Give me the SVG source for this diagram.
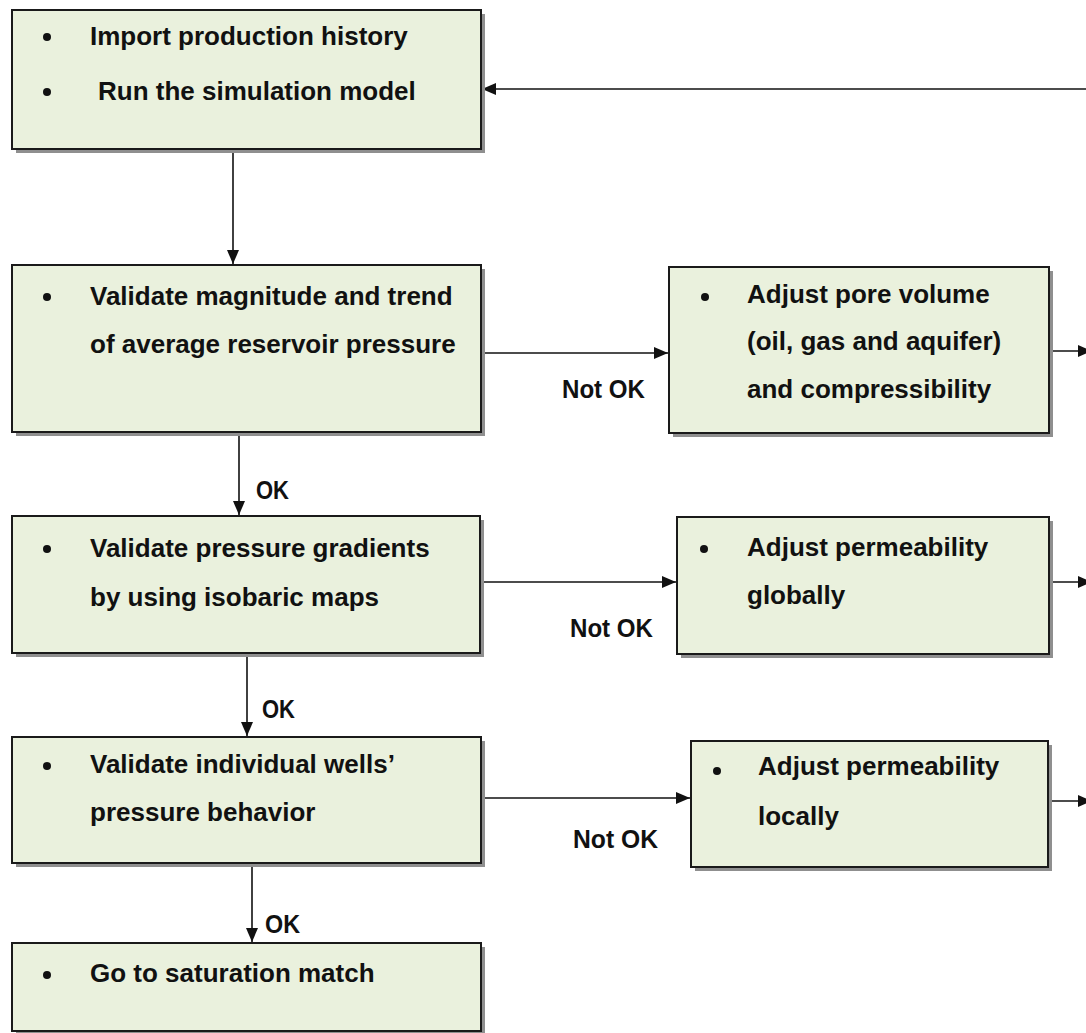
<svg xmlns="http://www.w3.org/2000/svg" width="1086" height="1033" viewBox="0 0 1086 1033">
<style>
.box{fill:#EAF1DD;stroke:#1a1a1a;stroke-width:2}
.sh{fill:#8f8f8f}
.t{font-family:"Liberation Sans",Arial,sans-serif;font-weight:bold;font-size:26px;fill:#111}
.lbl{font-family:"Liberation Sans",Arial,sans-serif;font-weight:bold;font-size:25px;fill:#111}
.bul{fill:#111}
.c{stroke:#111;stroke-width:1.6;fill:none;marker-end:url(#ah)}
</style>
<defs>
<marker id="ah" markerUnits="userSpaceOnUse" markerWidth="15" markerHeight="12" refX="14" refY="6" orient="auto">
<path d="M0,0 L14,6 L0,12 z" fill="#111"/>
</marker>
</defs>
<rect width="1086" height="1033" fill="#fff"/>
<g id="connectors">
<line class="c" x1="1092" y1="89" x2="482" y2="89"/>
<line class="c" x1="233" y1="149" x2="233" y2="264"/>
<line class="c" x1="481" y1="353" x2="668" y2="353"/>
<line class="c" x1="1049" y1="351" x2="1092" y2="351"/>
<line class="c" x1="239" y1="432" x2="239" y2="515"/>
<line class="c" x1="480" y1="582" x2="676" y2="582"/>
<line class="c" x1="1049" y1="582" x2="1092" y2="582"/>
<line class="c" x1="247" y1="653" x2="247" y2="736"/>
<line class="c" x1="481" y1="798" x2="690" y2="798"/>
<line class="c" x1="1048" y1="801" x2="1092" y2="801"/>
<line class="c" x1="252" y1="863" x2="252" y2="942"/>
<text class="lbl" x="562" y="398" textLength="83" lengthAdjust="spacingAndGlyphs">Not OK</text>
<text class="lbl" x="570" y="637" textLength="83" lengthAdjust="spacingAndGlyphs">Not OK</text>
<text class="lbl" x="573" y="848" textLength="85" lengthAdjust="spacingAndGlyphs">Not OK</text>
<text class="lbl" x="256" y="499" textLength="33" lengthAdjust="spacingAndGlyphs">OK</text>
<text class="lbl" x="262" y="718" textLength="33" lengthAdjust="spacingAndGlyphs">OK</text>
<text class="lbl" x="265" y="933" textLength="35" lengthAdjust="spacingAndGlyphs">OK</text>
</g>
<g id="n1">
<rect class="sh" x="16" y="14" width="469" height="139"/>
<rect class="box" x="12" y="10" width="469" height="139"/>
<circle class="bul" cx="47" cy="37" r="4"/>
<circle class="bul" cx="47" cy="92" r="4"/>
<text class="t" x="90" y="45">Import production history</text>
<text class="t" x="98" y="100">Run the simulation model</text>
</g>
<g id="n2">
<rect class="sh" x="16" y="269" width="469" height="167"/>
<rect class="box" x="12" y="265" width="469" height="167"/>
<circle class="bul" cx="47" cy="297" r="4"/>
<text class="t" x="90" y="305">Validate magnitude and trend</text>
<text class="t" x="90" y="353">of average reservoir pressure</text>
</g>
<g id="n3">
<rect class="sh" x="673" y="271" width="380" height="166"/>
<rect class="box" x="669" y="267" width="380" height="166"/>
<circle class="bul" cx="705" cy="297" r="4"/>
<text class="t" x="747" y="303">Adjust pore volume</text>
<text class="t" x="747" y="350">(oil, gas and aquifer)</text>
<text class="t" x="747" y="398">and compressibility</text>
</g>
<g id="n4">
<rect class="sh" x="16" y="520" width="468" height="137"/>
<rect class="box" x="12" y="516" width="468" height="137"/>
<circle class="bul" cx="47" cy="549" r="4"/>
<text class="t" x="90" y="557">Validate pressure gradients</text>
<text class="t" x="90" y="606">by using isobaric maps</text>
</g>
<g id="n5">
<rect class="sh" x="681" y="521" width="372" height="137"/>
<rect class="box" x="677" y="517" width="372" height="137"/>
<circle class="bul" cx="704" cy="549" r="4"/>
<text class="t" x="747" y="556">Adjust permeability</text>
<text class="t" x="747" y="604">globally</text>
</g>
<g id="n6">
<rect class="sh" x="16" y="741" width="469" height="126"/>
<rect class="box" x="12" y="737" width="469" height="126"/>
<circle class="bul" cx="47" cy="766" r="4"/>
<text class="t" x="90" y="773">Validate individual wells’</text>
<text class="t" x="90" y="821">pressure behavior</text>
</g>
<g id="n7">
<rect class="sh" x="695" y="745" width="357" height="126"/>
<rect class="box" x="691" y="741" width="357" height="126"/>
<circle class="bul" cx="717" cy="771" r="4"/>
<text class="t" x="758" y="775">Adjust permeability</text>
<text class="t" x="758" y="825">locally</text>
</g>
<g id="n8">
<rect class="sh" x="16" y="947" width="469" height="88"/>
<rect class="box" x="12" y="943" width="469" height="88"/>
<circle class="bul" cx="47" cy="975" r="4"/>
<text class="t" x="90" y="982">Go to saturation match</text>
</g>
</svg>
